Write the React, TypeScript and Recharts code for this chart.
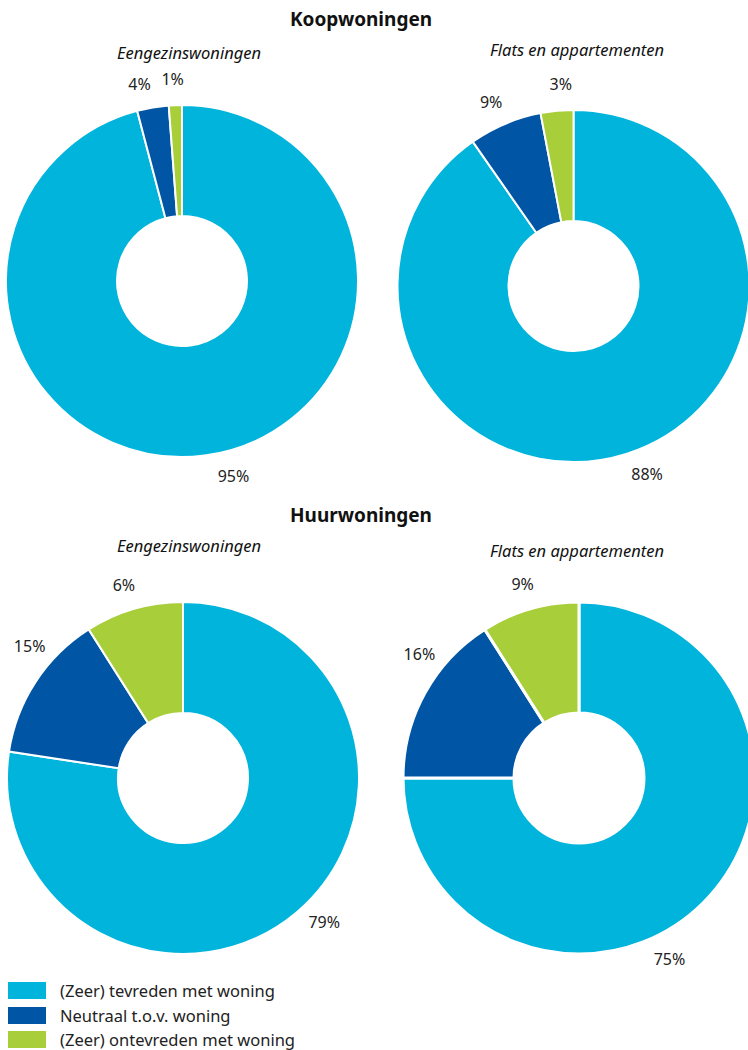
import { PieChart, Pie, Cell } from 'recharts';

const categories = ['(Zeer) tevreden met woning', 'Neutraal t.o.v. woning', '(Zeer) ontevreden met woning'];
const colors = ['#00B4DC', '#0056A4', '#A8CE3A'];

// slice shares as drawn in the picture
const koopEengezin = [95.9, 2.9, 1.2];
const koopFlats = [90.3, 6.7, 3.0];
const huurEengezin = [77.4, 13.6, 9.0];
const huurFlats = [75, 16, 9];

// percentages printed next to the slices
const koopEengezinLabels = [95, 4, 1];
const koopFlatsLabels = [88, 9, 3];
const huurEengezinLabels = [79, 15, 6];
const huurFlatsLabels = [75, 16, 9];

const groupTitles = ['Koopwoningen', 'Huurwoningen'];
const subTitles = ['Eengezinswoningen', 'Flats en appartementen'];

const FONT = '"Noto Sans", "Open Sans", sans-serif';
const RAD = Math.PI / 180;

const toRows = (values: number[], labels: number[]) =>
  values.map((v, i) => ({ name: categories[i], value: v, label: labels[i] }));

// label placement per donut (shift in degrees from the slice middle)
const pies = [
  { data: koopEengezin, labels: koopEengezinLabels, cx: 182, cy: 281, shift: [7.4, 2.6, 0.5], gap: 2 },
  { data: koopFlats, labels: koopFlatsLabels, cx: 573.5, cy: 286, shift: [3.9, 1.2, -1.8], gap: 2 },
  { data: huurEengezin, labels: huurEengezinLabels, cx: 183, cy: 778, shift: [3.7, -7.5, 0.8], gap: 2 },
  { data: huurFlats, labels: huurFlatsLabels, cx: 579, cy: 778, shift: [-18.4, -9, 0], gap: 3 },
];

const makeLabel = (shift: number[], labels: number[]) => (props: any) => {
  const { cx, cy, midAngle, index } = props;
  const a = (midAngle + shift[index]) * RAD;
  const r = 202;
  const x = cx + r * Math.cos(a);
  const y = cy - r * Math.sin(a);
  return (
    <text x={x} y={y} textAnchor="middle" dominantBaseline="central" fontFamily={FONT} fontSize={16} fill="#222">
      {`${labels[index]}%`}
    </text>
  );
};

const textStyle: React.CSSProperties = { position: 'absolute', fontFamily: FONT, color: '#111', whiteSpace: 'nowrap' };

export default function App() {
  return (
    <div style={{ position: 'absolute', left: 0, top: 0, width: 748, height: 1050, background: '#fff', overflow: 'hidden' }}>
      <div style={{ ...textStyle, left: 0, width: 722, top: 6, textAlign: 'center', fontWeight: 700, fontSize: 19 }}>{groupTitles[0]}</div>
      <div style={{ ...textStyle, left: 0, width: 722, top: 502, textAlign: 'center', fontWeight: 700, fontSize: 19 }}>{groupTitles[1]}</div>
      <div style={{ ...textStyle, left: 189 - 150, width: 300, top: 41, textAlign: 'center', fontStyle: 'italic', fontSize: 16.5 }}>{subTitles[0]}</div>
      <div style={{ ...textStyle, left: 577 - 150, width: 300, top: 38, textAlign: 'center', fontStyle: 'italic', fontSize: 16.5 }}>{subTitles[1]}</div>
      <div style={{ ...textStyle, left: 189 - 150, width: 300, top: 534, textAlign: 'center', fontStyle: 'italic', fontSize: 16.5 }}>{subTitles[0]}</div>
      <div style={{ ...textStyle, left: 577 - 150, width: 300, top: 539, textAlign: 'center', fontStyle: 'italic', fontSize: 16.5 }}>{subTitles[1]}</div>

      <div style={{ position: 'absolute', left: 0, top: 0 }}>
        <PieChart width={748} height={1050} margin={{ top: 0, right: 0, bottom: 0, left: 0 }}>
          {pies.map((p, k) => (
            <Pie
              key={k}
              data={toRows(p.data, p.labels)}
              dataKey="value"
              nameKey="name"
              cx={p.cx}
              cy={p.cy}
              innerRadius={65}
              outerRadius={176}
              startAngle={90}
              endAngle={-270}
              stroke="#fff"
              strokeWidth={p.gap}
              label={makeLabel(p.shift, p.labels)}
              labelLine={false}
              isAnimationActive={false}
            >
              {p.data.map((_, i) => (
                <Cell key={i} fill={colors[i]} />
              ))}
            </Pie>
          ))}
        </PieChart>
      </div>

      {categories.map((c, i) => (
        <div key={c} style={{ position: 'absolute', left: 8, top: 982 + i * 24.5, display: 'flex', alignItems: 'center' }}>
          <div style={{ width: 38, height: 17, background: colors[i] }} />
          <span style={{ fontFamily: FONT, fontSize: 16.5, color: '#222', marginLeft: 14, lineHeight: '17px' }}>{c}</span>
        </div>
      ))}
    </div>
  );
}
